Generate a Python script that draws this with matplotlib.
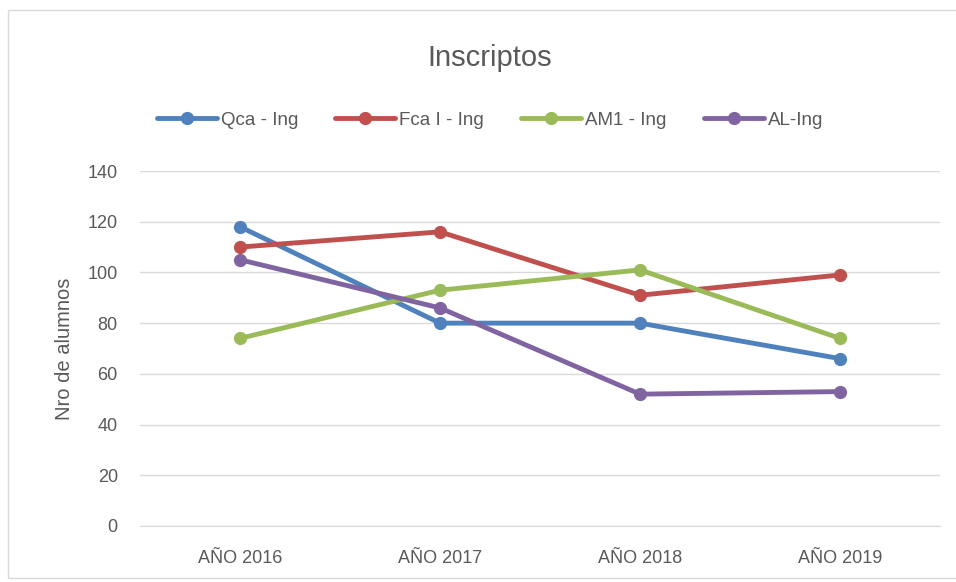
import matplotlib
matplotlib.use("Agg")
import matplotlib.pyplot as plt
from matplotlib.patches import Rectangle

categories = ["AÑO 2016", "AÑO 2017", "AÑO 2018", "AÑO 2019"]
qca = [118, 80, 80, 66]
fca = [110, 116, 91, 99]
am1 = [74, 93, 101, 74]
al = [105, 86, 52, 53]
series_names = ["Qca - Ing", "Fca I - Ing", "AM1 - Ing", "AL-Ing"]
yticks = [0, 20, 40, 60, 80, 100, 120, 140]

colors = ["#4F81BD", "#C0504D", "#9BBB59", "#8064A2"]

plt.rcParams['font.family'] = ['Liberation Sans Narrow', 'Liberation Sans', 'DejaVu Sans']

fig = plt.figure(figsize=(9.56, 5.82), dpi=100)
fig.patch.set_facecolor("white")
fig.patches.append(Rectangle((8/956, 4/582), 0.995, 1 - 14/582, transform=fig.transFigure,
                             fill=False, edgecolor="#D9D9D9", linewidth=1))

ax = fig.add_axes([140/956, 1 - 526/582, 800/956, 355/582])
x = list(range(len(categories)))
for vals, name, c in zip([qca, fca, am1, al], series_names, colors):
    ax.plot(x, vals, color=c, linewidth=3.5, marker='o', markersize=8.5, label=name,
            solid_capstyle='round')

ax.set_xlim(-0.5, 3.5)
ax.set_ylim(0, 140)
ax.set_yticks(yticks)
ax.set_xticks(x)
ax.set_xticklabels(categories)
ax.tick_params(axis='both', length=0, labelsize=13, colors="#595959")
ax.tick_params(axis='y', pad=16)
ax.tick_params(axis='x', pad=17)
ax.grid(axis='y', color="#D9D9D9", linewidth=1)
ax.set_axisbelow(True)
for s in ["top", "right", "left"]:
    ax.spines[s].set_visible(False)
ax.spines["bottom"].set_color("#D9D9D9")
ax.set_ylabel("Nro de alumnos", fontsize=14.5, color="#595959", labelpad=10)

fig.text(490/956, 1 - 58/582, "Inscriptos", ha='center', va='center', fontsize=21, color="#595959")
leg = fig.legend(loc='center', bbox_to_anchor=(490/956, 1 - 120/582), ncol=4, frameon=False,
                 fontsize=13.5, handlelength=3.2, handletextpad=0.2, columnspacing=2.0)
for t in leg.get_texts():
    t.set_color("#595959")

fig.savefig("out.png", dpi=100, facecolor="white")
